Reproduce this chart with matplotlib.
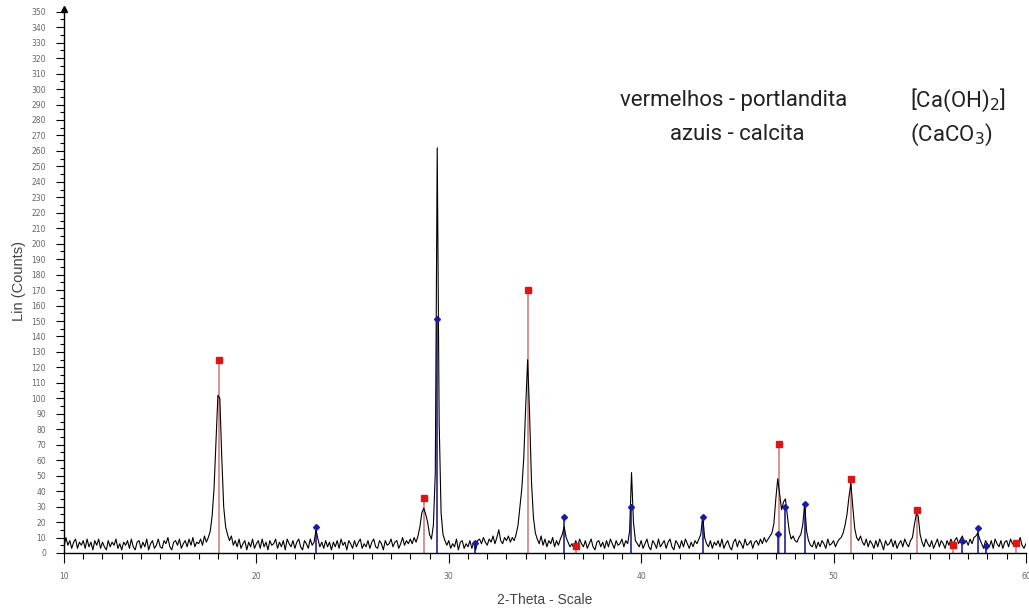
import numpy as np
import matplotlib.pyplot as plt
from matplotlib.ticker import MultipleLocator

# measured pattern, 2-theta from 10.0 to 60.0 in 0.1 deg steps
two_theta_start = 10.0
two_theta_step = 0.1
counts = [
    4, 10, 5, 8, 3, 7, 9, 3, 7, 5,
    8, 3, 9, 4, 7, 2, 8, 5, 9, 3,
    7, 4, 2, 8, 4, 7, 5, 9, 3, 6,
    2, 7, 5, 8, 3, 9, 4, 2, 7, 8,
    3, 7, 4, 9, 2, 6, 8, 3, 5, 9,
    4, 3, 8, 6, 10, 4, 2, 7, 8, 5,
    9, 3, 6, 8, 4, 9, 5, 10, 4, 7,
    6, 9, 5, 11, 7, 10, 14, 24, 42, 72,
    102, 100, 62, 30, 17, 12, 8, 11, 5, 8,
    4, 9, 3, 6, 8, 2, 7, 4, 9, 3,
    6, 8, 3, 9, 4, 7, 2, 8, 5, 6,
    9, 3, 7, 4, 8, 2, 9, 6, 4, 8,
    3, 7, 9, 4, 2, 8, 6, 3, 9, 5,
    7, 15, 9, 4, 7, 3, 8, 4, 7, 2,
    7, 4, 8, 3, 9, 5, 7, 2, 8, 6,
    3, 8, 4, 7, 9, 3, 6, 4, 8, 3,
    7, 9, 4, 3, 8, 6, 2, 8, 5, 6,
    9, 4, 7, 8, 3, 6, 10, 5, 8, 6,
    9, 6, 10, 7, 11, 17, 26, 29, 25, 20,
    12, 9, 18, 52, 262, 85, 26, 12, 8, 5,
    8, 3, 6, 4, 9, 2, 7, 8, 3, 6,
    4, 8, 3, 7, 2, 8, 9, 6, 10, 7,
    5, 9, 7, 11, 6, 10, 15, 8, 6, 10,
    8, 11, 7, 10, 8, 12, 18, 30, 42, 62,
    95, 125, 90, 46, 23, 13, 9, 6, 11, 5,
    9, 4, 8, 6, 10, 4, 8, 5, 9, 12,
    17, 10, 7, 4, 6, 3, 8, 4, 9, 6,
    4, 8, 3, 6, 9, 4, 2, 7, 8, 4,
    7, 3, 8, 4, 9, 6, 3, 8, 5, 6,
    9, 4, 8, 6, 14, 52, 20, 8, 6, 4,
    8, 3, 6, 9, 4, 2, 8, 6, 3, 9,
    4, 6, 8, 3, 7, 9, 4, 2, 8, 6,
    3, 8, 4, 9, 6, 3, 7, 4, 8, 6,
    9, 12, 24, 10, 6, 4, 8, 3, 7, 5,
    8, 4, 9, 3, 6, 8, 4, 2, 7, 9,
    4, 8, 6, 3, 9, 5, 6, 8, 3, 7,
    8, 5, 9, 6, 10, 7, 9, 11, 13, 19,
    35, 48, 38, 28, 33, 35, 24, 14, 9, 11,
    8, 7, 10, 12, 18, 32, 14, 8, 5, 4,
    8, 3, 7, 4, 8, 6, 3, 9, 5, 6,
    8, 4, 7, 9, 10, 13, 18, 25, 36, 45,
    30, 16, 10, 8, 11, 7, 5, 9, 4, 8,
    6, 3, 8, 4, 9, 6, 2, 8, 5, 6,
    9, 4, 8, 3, 6, 8, 4, 9, 6, 4,
    8, 10, 18, 25, 24, 12, 7, 4, 9, 6,
    4, 8, 3, 6, 9, 4, 8, 6, 3, 8,
    5, 9, 6, 8, 10, 6, 9, 11, 6, 8,
    5, 9, 6, 10, 11, 13, 9, 6, 3, 8,
    6, 4, 8, 3, 9, 6, 4, 8, 3, 7,
    8, 4, 9, 6, 5, 8, 6, 10, 5, 3,
    6,
]

# reference lines: portlandita (red) and calcita (blue)
portlandita_pos = [18.05, 28.7, 34.1, 36.6, 47.14, 50.9, 54.36, 56.2, 59.5]
portlandita_int = [125, 35.5, 170, 4.5, 70.5, 48, 28, 5, 6.5]
calcita_pos = [23.1, 29.38, 31.35, 36.0, 39.45, 43.2, 47.1, 47.5, 48.5, 56.7, 57.5, 57.95]
calcita_int = [17, 151, 6.5, 23, 30, 23, 12, 30, 32, 8, 16, 4.5]

two_theta = two_theta_start + two_theta_step * np.arange(len(counts))

fig = plt.figure(figsize=(10.29, 6.13), dpi=100)
ax = fig.add_axes([0.0622, 0.0979, 0.9348, 0.888])

ax.plot(two_theta, counts, color="black", lw=0.8, zorder=3)

ax.vlines(portlandita_pos, 0, portlandita_int, color="#d88a8a", lw=1.3, zorder=2)
ax.plot(portlandita_pos, portlandita_int, "s", color="#dd1515", ms=4.5, zorder=4)
ax.vlines(calcita_pos, 0, calcita_int, color="#10108c", lw=1.1, zorder=2)
ax.plot(calcita_pos, calcita_int, "D", color="#1a1aa8", ms=3, zorder=4)

ax.set_xlim(10, 60)
ax.set_ylim(0, 352)
ax.xaxis.set_major_locator(MultipleLocator(10))
ax.xaxis.set_minor_locator(MultipleLocator(1))
ax.yaxis.set_major_locator(MultipleLocator(10))
ax.yaxis.set_minor_locator(MultipleLocator(5))

for s in ("top", "right"):
    ax.spines[s].set_visible(False)
ax.spines["left"].set_linewidth(1.0)
ax.spines["bottom"].set_linewidth(1.0)
ax.tick_params(axis="both", which="major", direction="out", colors="black",
               labelcolor="#666666", labelsize=5.5, width=0.8)
ax.tick_params(axis="x", which="major", length=7, pad=7)
ax.tick_params(axis="x", which="minor", length=4, width=0.8)
ax.tick_params(axis="y", which="major", length=6, pad=7)
ax.tick_params(axis="y", which="minor", length=3, width=0.8)

# small arrow head at the top of the y axis
ax.plot([10], [352], marker="^", color="black", ms=4, clip_on=False, zorder=5)

ax.set_xlabel("2-Theta - Scale", fontsize=10, color="#444444", labelpad=8,
              family="Liberation Sans")
ax.set_ylabel("Lin (Counts)", fontsize=10.5, color="#444444", labelpad=4,
              family="Liberation Sans")

txt = dict(fontsize=16, color="#222222", family="Roboto", va="center")
ax.text(0.696, 0.832, "vermelhos - portlandita", transform=ax.transAxes, ha="center", **txt)
ax.text(0.70, 0.768, "azuis - calcita", transform=ax.transAxes, ha="center", **txt)
ax.text(0.879, 0.832, r"[Ca(OH)$_2$]", transform=ax.transAxes, ha="left", **txt)
ax.text(0.879, 0.768, r"(CaCO$_3$)", transform=ax.transAxes, ha="left", **txt)

fig.savefig("out.png", dpi=100)
